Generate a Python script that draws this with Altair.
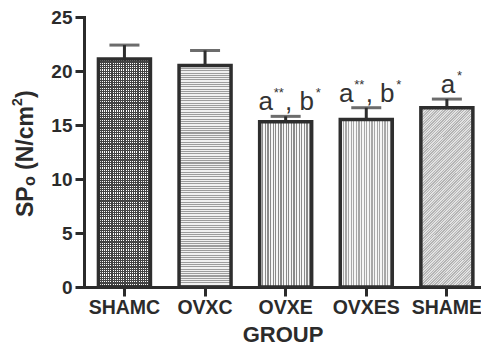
import altair as alt
import pandas as pd

# Bar chart of SP_o per treatment group, mean with upper error bar
groups = ["SHAMC", "OVXC", "OVXE", "OVXES", "SHAME"]
means = [21.1, 20.5, 15.3, 15.5, 16.6]
upper = [22.4, 21.9, 15.8, 16.6, 17.4]

# significance letters drawn over the bars
pair_groups = ["OVXE", "OVXES"]
pair_first = ["a", "a"]
pair_first_sig = ["**", "**"]
pair_second = ["b", "b"]
pair_second_sig = ["*", "*"]

single_groups = ["SHAME"]
single_letter = ["a"]
single_sig = ["*"]

y_ticks = [0, 5, 10, 15, 20, 25]
title_parts = ["SP", "o", "(N/cm", "2", ")"]

INK = "#2b2b2b"
FONT = "Liberation Sans"

df = pd.DataFrame({"group": groups, "mean": means, "upper": upper})
up = dict(zip(groups, upper))
pairs = pd.DataFrame({
    "group": pair_groups,
    "upper": [up[g] for g in pair_groups],
    "l1": pair_first, "s1": pair_first_sig,
    "l2": pair_second, "s2": pair_second_sig,
})
singles = pd.DataFrame({
    "group": single_groups,
    "upper": [up[g] for g in single_groups],
    "l1": single_letter, "s1": single_sig,
})


def stripes(n, line, bg, frac, x2, y2):
    """Linear gradient with hard stops, used as a hatch fill."""
    stops = []
    for i in range(n):
        a, b, c = i / n, (i + frac) / n, (i + 1) / n
        stops += [(a, line), (b, line), (b, bg), (c, bg)]
    return {
        "gradient": "linear", "x1": 0, "y1": 0, "x2": x2, "y2": y2,
        "stops": [{"offset": round(o, 5), "color": col} for o, col in stops],
    }


x_scale = alt.Scale(domain=groups, paddingInner=0.355, paddingOuter=0.14, align=0.64)
x_axis = alt.Axis(
    title="GROUP", labelAngle=0, labelOverlap=False, labelAlign="center",
    labelFont=FONT, labelFontSize=19.5, labelFontWeight="bold", labelColor=INK,
    labelPadding=2, tickSize=9, tickWidth=3, tickColor=INK,
    domainWidth=3, domainColor=INK, domainCap="square",
    titleFont=FONT, titleFontSize=22, titleFontWeight="bold", titleColor=INK,
    titlePadding=8,
)
y_scale = alt.Scale(domain=[0, 25], nice=False)
y_axis = alt.Axis(
    title=None, values=y_ticks, grid=False,
    labelFont=FONT, labelFontSize=19, labelFontWeight="bold", labelColor=INK,
    labelPadding=3, tickSize=9, tickWidth=3, tickColor=INK,
    domainWidth=3, domainColor=INK, domainCap="square",
)

X = alt.X("group:N", scale=x_scale, axis=x_axis, sort=groups, title="GROUP")
Y = alt.Y("mean:Q", scale=y_scale, axis=y_axis, title=None)
Yu = alt.Y("upper:Q", scale=y_scale, axis=y_axis, title=None)

base = alt.Chart(df)

fills = {
    "SHAMC": [stripes(100, "#444444", "#ffffff", 0.5, 0, 1),
              stripes(24, "#444444", "rgba(0,0,0,0)", 0.5, 1, 0)],
    "OVXC": [stripes(96, "#9c9c9c", "#f0f0f0", 0.45, 0, 1)],
    "OVXE": [stripes(20, "#8a8a8a", "#f6f6f6", 0.45, 1, 0)],
    "OVXES": [stripes(20, "#a8a8a8", "#f6f6f6", 0.45, 1, 0)],
    "SHAME": [stripes(150, "#b4b4b4", "#e2e2e2", 0.5, 0.36, 1.24)],
}

layers = []
for g in groups:
    for f in fills[g]:
        layers.append(
            base.transform_filter(alt.datum.group == g)
            .mark_bar(fill=f, strokeWidth=0)
            .encode(x=X, y=Y)
        )

outline = base.mark_bar(fill="transparent", stroke="#2e2e2e", strokeWidth=3.5).encode(x=X, y=Y)

stem = base.mark_rule(color="#2e2e2e", strokeWidth=3).encode(
    x=X, y=Y, y2=alt.Y2("upper:Q")
)
cap = base.mark_tick(color="#2e2e2e", size=30, thickness=3).encode(x=X, y=Yu)

letter_style = dict(font=FONT, fontSize=26, color="#333333", baseline="alphabetic")
star_style = dict(font=FONT, fontSize=13, color="#333333", baseline="alphabetic", align="left")

pc = alt.Chart(pairs)
ann = [
    pc.mark_text(align="center", dx=-20, dy=-6, **letter_style).encode(x=X, y=Yu, text="l1:N"),
    pc.mark_text(dx=-12, dy=-19, **star_style).encode(x=X, y=Yu, text="s1:N"),
    pc.mark_text(align="center", dx=3, dy=-6, **letter_style).encode(x=X, y=Yu, text=alt.value(",")),
    pc.mark_text(align="center", dx=21, dy=-6, **letter_style).encode(x=X, y=Yu, text="l2:N"),
    pc.mark_text(dx=30, dy=-19, **star_style).encode(x=X, y=Yu, text="s2:N"),
]
sc = alt.Chart(singles)
ann += [
    sc.mark_text(align="center", dx=1, dy=-6, **letter_style).encode(x=X, y=Yu, text="l1:N"),
    sc.mark_text(dx=10, dy=-19, **star_style).encode(x=X, y=Yu, text="s1:N"),
]

# rotated y-axis title built from pieces (subscript o, superscript 2)
title_pos = [(-51, 200, 23), (-49, 169, 16), (-51, 153, 23), (-62, 89, 14), (-51, 81, 23)]
title_layers = []
for txt, (px, py, fs) in zip(title_parts, title_pos):
    title_layers.append(
        alt.Chart(pd.DataFrame({"t": [txt]}))
        .mark_text(angle=270, align="left", baseline="alphabetic", font=FONT,
                   fontSize=fs, fontWeight="bold", color=INK)
        .encode(x=alt.value(px), y=alt.value(py), text="t:N")
    )

chart = alt.layer(*layers, outline, stem, cap, *ann, *title_layers).properties(
    width=397, height=270,
    autosize=alt.AutoSizeParams(type="none"),
    padding={"left": 84, "top": 17, "right": 0, "bottom": 67},
    background="white",
).configure_view(stroke=None)

chart.save("out.html", embed_options={"renderer": "svg", "actions": False})
